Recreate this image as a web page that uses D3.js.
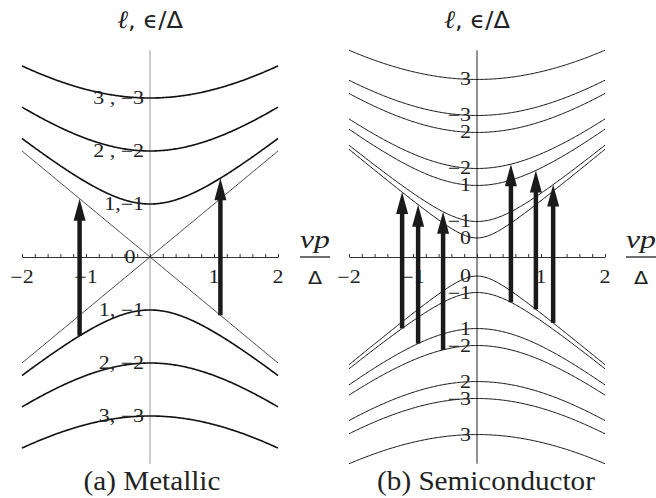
<!DOCTYPE html>
<html lang="en">
<head>
<meta charset="UTF-8" />
<title>Metallic vs Semiconductor bands</title>
<script src="https://d3js.org/d3.v7.min.js"></script>
<style>
  html, body { margin: 0; padding: 0; background: #fff; }
  svg { display: block; }
  text { font-family: 'Liberation Serif', 'Times New Roman', serif; fill: #222; }
</style>
</head>
<body>
<svg width="656" height="498"></svg>
<script>
  // tick labels on the vp/Δ axis
  const pTicks = [-2, -1, 1, 2];

  // (a) metallic: band edges at p = 0 (units of Δ) and their ℓ labels
  const metalGaps = [1, 2, 3];
  const metalUpLabels = ["1,−1", "2 , −2", "3 , −3"];
  const metalDownLabels = ["1, −1", "2, −2", "3, −3"];
  const metalArrowP = [-1.1, 1.1];
  const metalArrowFrom = [1, 0];   // edge of the lower band
  const metalArrowTo = [0, 1];     // edge of the upper band

  // (b) semiconductor
  const semiL = [0, -1, 1, -2, 2, -3, 3];
  const semiGaps = [0.36, 0.67, 1.35, 1.67, 2.35, 2.67, 3.35];
  const semiArrowP = [-1.17, -0.92, -0.53, 0.53, 0.92, 1.19];
  const semiArrowFrom = [-1, 1, -2, -1, 0, 0];  // ℓ of lower band
  const semiArrowTo = [0, 0, -1, -2, 1, -1];    // ℓ of upper band

  const svg = d3.select("svg");
  const SX = 1.22;  // the figure is stretched sideways
  const y = d3.scaleLinear().domain([-3.9, 3.9]).range([463.7, 50.3]);
  const pGrid = d3.range(-2, 2.0001, 0.02);
  const energy = (p, m) => Math.sqrt(p * p + m * m);

  function stext(g, x, yy, str, size, anchor, family, style, sx) {
    return g.append("text")
      .attr("transform", `translate(${x},${yy}) scale(${sx || SX},1)`)
      .attr("text-anchor", anchor || "middle")
      .style("font-size", size + "px")
      .style("font-family", family || null)
      .style("font-style", style || null)
      .text(str);
  }

  function drawPanel(opt) {
    const g = svg.append("g");
    const x = d3.scaleLinear().domain([-2, 2]).range(opt.range);
    const x0 = x(0);

    // vertical axis
    g.append("line")
      .attr("x1", x0).attr("x2", x0)
      .attr("y1", y(3.9)).attr("y2", y(-3.9))
      .attr("stroke", opt.vColor).attr("stroke-width", 1);

    // bands
    const line = m => d3.line()
      .x(p => x(p))
      .y(p => y(m.sign * energy(p, m.gap)))(pGrid);
    opt.gaps.forEach(gap => {
      [1, -1].forEach(sign => {
        g.append("path")
          .attr("d", line({ gap, sign }))
          .attr("fill", "none")
          .attr("stroke", "#111")
          .attr("stroke-width", opt.width(gap));
      });
    });

    // horizontal axis with small ticks
    g.append("g")
      .attr("transform", `translate(0,${y(0)})`)
      .call(d3.axisTop(x).tickValues(d3.range(-2, 2.0001, 0.2)).tickSize(3).tickSizeOuter(0).tickFormat(""))
      .call(a => a.select(".domain").attr("stroke", "#333"))
      .call(a => a.selectAll(".tick line").attr("stroke", "#333"));
    pTicks.forEach(t => {
      stext(g, x(t), y(0) + 26, t < 0 ? "−" + (-t) : String(t), 18);
    });

    // band labels
    opt.upLabels.forEach((s, i) => stext(g, x0 - 6, y(opt.labelGaps[i]) + 6, s, 18, "end"));
    opt.downLabels.forEach((s, i) => stext(g, x0 - 6, y(-opt.labelGaps[i]) + 6, s, 18, "end"));

    // transition arrows
    opt.arrowP.forEach((p, i) => {
      const yb = y(-energy(p, opt.arrowFrom[i]));
      const yt = y(energy(p, opt.arrowTo[i]));
      const xa = x(p);
      g.append("line")
        .attr("x1", xa).attr("x2", xa)
        .attr("y1", yb).attr("y2", yt + 18)
        .attr("stroke", "#1a1a1a").attr("stroke-width", 4.5);
      g.append("path")
        .attr("d", `M${xa},${yt} L${xa - 6},${yt + 22} L${xa + 6},${yt + 22} Z`)
        .attr("fill", "#1a1a1a");
    });

    // title and fraction label
    stext(g, x0, 28, "", 23, "middle", null, null, 1.05)
      .call(t => {
        t.append("tspan").style("font-style", "italic").style("font-size", "25px").text("ℓ");
        t.append("tspan").style("font-family", "'DejaVu Sans', sans-serif").text(", ϵ/Δ");
      });
    const fx = opt.fracX;
    stext(g, fx, 248, "vp", 26, "middle", null, "italic");
    g.append("line")
      .attr("x1", fx - 15).attr("x2", fx + 15)
      .attr("y1", 257).attr("y2", 257)
      .attr("stroke", "#222").attr("stroke-width", 1.3);
    stext(g, fx, 284, "Δ", 17, "middle", "'DejaVu Sans', sans-serif");

    stext(g, opt.capX, 490, opt.caption, 27, "middle", null, null, 1.08);
    return { g, x };
  }

  const left = drawPanel({
    range: [22, 278],
    vColor: "#999",
    gaps: [0].concat(metalGaps),
    width: gap => gap === 0 ? 0.8 : 1.6,
    labelGaps: metalGaps,
    upLabels: metalUpLabels,
    downLabels: metalDownLabels,
    arrowP: metalArrowP,
    arrowFrom: metalArrowFrom,
    arrowTo: metalArrowTo,
    fracX: 315,
    capX: 152,
    caption: "(a) Metallic"
  });
  stext(left.g, left.x(0) - 20, y(0) + 6, "0", 18);

  const lbl = l => l < 0 ? "−" + (-l) : String(l);
  const gapOf = l => semiGaps[semiL.indexOf(l)];
  drawPanel({
    range: [349, 605],
    vColor: "#222",
    gaps: semiGaps,
    width: () => 1,
    labelGaps: semiGaps,
    upLabels: semiL.map(lbl),
    downLabels: semiL.map(lbl),
    arrowP: semiArrowP,
    arrowFrom: semiArrowFrom.map(gapOf),
    arrowTo: semiArrowTo.map(gapOf),
    fracX: 641,
    capX: 486,
    caption: "(b) Semiconductor"
  });
</script>
</body>
</html>
